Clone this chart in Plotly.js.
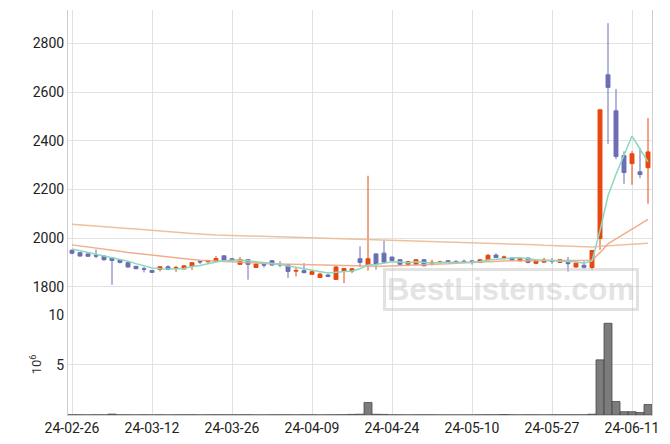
<!DOCTYPE html>
<html>
<head>
<meta charset="utf-8">
<script src="https://cdn.plot.ly/plotly-3.0.1.min.js"></script>
<style>html,body{margin:0;padding:0;background:#fff;}#chart{width:670px;height:444px;}</style>
</head>
<body>
<div id="chart"></div>
<script>
// Trading days (KRX calendar)
const dates = ["24-02-26","24-02-27","24-02-28","24-02-29","24-03-04","24-03-05","24-03-06","24-03-07","24-03-08","24-03-11",
"24-03-12","24-03-13","24-03-14","24-03-15","24-03-18","24-03-19","24-03-20","24-03-21","24-03-22","24-03-25",
"24-03-26","24-03-27","24-03-28","24-03-29","24-04-01","24-04-02","24-04-03","24-04-04","24-04-05","24-04-08",
"24-04-09","24-04-11","24-04-12","24-04-15","24-04-16","24-04-17","24-04-18","24-04-19","24-04-22","24-04-23",
"24-04-24","24-04-25","24-04-26","24-04-29","24-04-30","24-05-02","24-05-03","24-05-07","24-05-08","24-05-09",
"24-05-10","24-05-13","24-05-14","24-05-16","24-05-17","24-05-20","24-05-21","24-05-22","24-05-23","24-05-24",
"24-05-27","24-05-28","24-05-29","24-05-30","24-05-31","24-06-03","24-06-04","24-06-05","24-06-07","24-06-10",
"24-06-11","24-06-12","24-06-13"];

const openP = [1950,1940,1935,1928,1926,1919,1911,1899,1884,1874,
1867,1871,1882,1876,1873,1884,1904,1903,1905,1927,
1915,1892,1911,1879,1891,1907,1892,1890,1864,1866,
1851,1838,1848,1830,1864,1864,1915,1890,1935,1938,
1922,1911,1892,1892,1911,1897,1900,1907,1904,1905,
1906,1900,1911,1930,1920,1918,1906,1918,1896,1901,
1906,1900,1899,1881,1888,1879,1998,2671,2523,2339,
2306,2272,2289];
const highP = [1953,1941,1936,1953,1927,1920,1912,1900,1885,1882,
1868,1883,1888,1886,1887,1900,1907,1909,1926,1928,
1916,1922,1912,1900,1901,1908,1905,1891,1877,1897,
1866,1858,1852,1886,1877,1876,1966,2256,1936,1990,
1923,1912,1904,1912,1912,1911,1907,1908,1909,1911,
1909,1912,1935,1937,1928,1920,1917,1919,1909,1919,
1918,1912,1922,1898,1905,1950,2527,2883,2612,2356,
2357,2370,2493];
const lowP = [1933,1924,1924,1918,1907,1808,1896,1879,1872,1859,
1858,1863,1868,1861,1872,1869,1893,1895,1904,1907,
1905,1890,1829,1878,1879,1887,1880,1836,1842,1855,
1849,1836,1841,1829,1815,1856,1881,1866,1870,1893,
1906,1890,1884,1891,1885,1887,1895,1899,1895,1897,
1891,1899,1909,1918,1912,1906,1905,1896,1892,1900,
1894,1898,1862,1879,1874,1870,1952,2387,2324,2223,
2219,2246,2141];
const closeP = [1938,1926,1925,1926,1911,1908,1900,1881,1874,1872,
1859,1882,1871,1879,1886,1899,1902,1908,1916,1908,
1907,1912,1892,1893,1889,1889,1890,1863,1867,1858,
1862,1852,1842,1881,1875,1874,1900,1915,1893,1901,
1908,1892,1903,1911,1886,1900,1902,1900,1902,1903,
1904,1911,1929,1920,1922,1910,1916,1900,1908,1910,
1904,1911,1895,1897,1880,1949,2527,2619,2335,2269,
2346,2261,2354];

// Moving averages
const ma5 = [1955,1948,1940,1932,1925,1919,1914,1905,1895,1887,
1877,1874,1872,1873,1875,1883,1887,1895,1902,1907,
1908,1910,1907,1902,1899,1895,1891,1885,1880,1873,
1868,1860,1856,1859,1862,1865,1874,1889,1891,1897,
1903,1902,1899,1903,1900,1898,1900,1900,1898,1901,
1902,1904,1910,1913,1917,1918,1919,1914,1911,1909,
1908,1907,1906,1903,1897,1906,2030,2174,2262,2340,
2419,2366,2313];
const ma20 = [1972,1968,1964,1960,1955,1950,1946,1941,1937,1933,
1929,1925,1921,1918,1915,1912,1909,1907,1905,1903,
1901,1899,1898,1897,1895,1894,1893,1892,1891,1890,
1889,1888,1887,1886,1885,1885,1884,1884,1884,1884,
1885,1886,1887,1888,1889,1890,1892,1894,1896,1898,
1900,1902,1904,1905,1906,1907,1907,1908,1908,1908,
1908,1908,1908,1907,1906,1909,1940,1976,1997,2017,
2038,2057,2077];
const maLong = [2057,2054,2052,2049,2047,2044,2042,2039,2037,2034,
2032,2029,2027,2024,2022,2019,2017,2014,2013,2012,
2011,2010,2009,2008,2006,2005,2004,2003,2002,2001,
2000,2000,1999,1998,1997,1996,1996,1995,1994,1993,
1992,1991,1990,1989,1988,1987,1986,1985,1984,1983,
1982,1981,1980,1979,1978,1976,1975,1973,1972,1970,
1969,1968,1966,1965,1963,1963,1966,1969,1971,1973,
1975,1977,1979];

// Volume (shares)
const volume = [21000,15000,12000,18000,14000,90000,16000,13000,11000,17000,
12000,15000,10000,14000,16000,19000,12000,13000,22000,17000,
14000,18000,20000,12000,11000,13000,15000,16000,12000,18000,
14000,12000,13000,20000,22000,60000,80000,1250000,70000,60000,
18000,15000,12000,14000,16000,13000,11000,12000,10000,12000,
11000,14000,22000,15000,50000,13000,12000,16000,14000,12000,
15000,13000,20000,16000,18000,80000,5500000,9150000,1350000,330000,
330000,250000,1050000];

const tickLabels = ["24-02-26","24-03-12","24-03-26","24-04-09","24-04-24","24-05-10","24-05-27","24-06-11"];

const UP = "#e8470f", DOWN = "#6a6eb4";
const volM = volume.map(v => v / 1e6);

const traces = [
  {type:"candlestick", x:dates, open:openP, high:highP, low:lowP, close:closeP,
   xaxis:"x", yaxis:"y",
   increasing:{line:{color:UP, width:1}, fillcolor:UP},
   decreasing:{line:{color:DOWN, width:1}, fillcolor:DOWN},
   showlegend:false, hoverinfo:"skip"},
  {type:"scatter", mode:"lines", x:dates, y:maLong, xaxis:"x", yaxis:"y",
   line:{color:"#ebba94", width:1.5}, opacity:0.9, showlegend:false, hoverinfo:"skip"},
  {type:"scatter", mode:"lines", x:dates, y:ma20, xaxis:"x", yaxis:"y",
   line:{color:"#f1a482", width:1.5}, opacity:0.9, showlegend:false, hoverinfo:"skip"},
  {type:"scatter", mode:"lines", x:dates, y:ma5, xaxis:"x", yaxis:"y",
   line:{color:"#8ad8bd", width:1.5}, showlegend:false, hoverinfo:"skip"},
  {type:"bar", x:dates, y:volM, xaxis:"x", yaxis:"y2",
   marker:{color:"rgba(110,110,110,0.9)", line:{color:"#4a4a4a", width:0.8}},
   showlegend:false, hoverinfo:"skip"}
];

const FONT = "Roboto, 'Noto Sans', sans-serif";
const GRID = "#e2e2e2", LINE = "#cfcfcf";

const layout = {
  width:670, height:444,
  margin:{l:68, r:18, t:10, b:29},
  paper_bgcolor:"#fff", plot_bgcolor:"#fff",
  font:{family:FONT, size:14, color:"#222"},
  showlegend:false,
  bargap:0,
  xaxis:{type:"category", anchor:"y2", range:[-0.5, 72.5],
    tickmode:"array", tickvals:tickLabels, ticktext:tickLabels,
    showgrid:true, gridcolor:GRID, showline:true, linecolor:LINE, ticks:"",
    rangeslider:{visible:false}, tickfont:{size:14, color:"#222"}},
  yaxis:{domain:[0.25, 1], range:[1689, 2937], tickvals:[1800,2000,2200,2400,2600,2800],
    showgrid:true, gridcolor:GRID, showline:true, mirror:true, linecolor:LINE, ticks:"",
    zeroline:false, tickfont:{size:14, color:"#222"}},
  yaxis2:{domain:[0, 0.25], range:[0, 10.1], tickvals:[5,10],
    showgrid:true, gridcolor:GRID, showline:true, mirror:true, linecolor:LINE, ticks:"",
    zeroline:false, tickfont:{size:14, color:"#222"},
    title:{text:"10<sup>6</sup>", font:{size:13, color:"#333"}, standoff:3}},
  annotations:[{xref:"paper", yref:"paper", x:0.759, y:0.309, xanchor:"center", yanchor:"middle",
    text:"<b>BestListens.com</b>", showarrow:false,
    font:{family:"'Liberation Sans', Arial, sans-serif", size:31, color:"rgba(190,190,190,0.42)"},
    bordercolor:"rgba(190,190,190,0.45)", borderwidth:3, borderpad:1}]
};

Plotly.newPlot("chart", traces, layout, {displayModeBar:false, staticPlot:true});
</script>
</body>
</html>
